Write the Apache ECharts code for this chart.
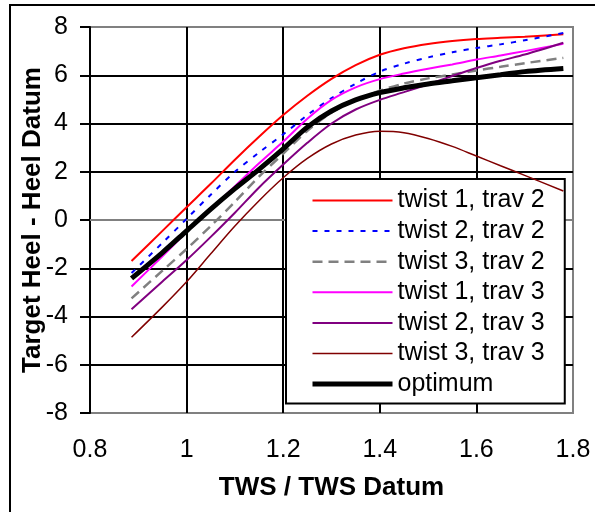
<!DOCTYPE html>
<html>
<head>
<meta charset="utf-8">
<script src="https://cdn.jsdelivr.net/npm/echarts@6/dist/echarts.min.js"></script>
<style>
html,body{margin:0;padding:0;background:#fff;}
#c{width:595px;height:512px;}
</style>
</head>
<body>
<div id="c"></div>
<script>
const xValues = [0.886, 0.95, 1.0, 1.05, 1.1, 1.15, 1.2, 1.25, 1.3, 1.35, 1.4, 1.45, 1.5, 1.55, 1.6, 1.65, 1.7, 1.78];
const seriesNames = ['twist 1, trav 2', 'twist 2, trav 2', 'twist 3, trav 2', 'twist 1, trav 3', 'twist 2, trav 3', 'twist 3, trav 3', 'optimum'];
const twist1trav2 = [-1.70, -0.45, 0.53, 1.50, 2.50, 3.45, 4.35, 5.15, 5.85, 6.42, 6.85, 7.12, 7.30, 7.42, 7.50, 7.55, 7.60, 7.70];
const twist2trav2 = [-2.20, -0.95, 0.05, 1.05, 2.00, 2.80, 3.55, 4.35, 5.05, 5.65, 6.15, 6.48, 6.74, 6.95, 7.13, 7.28, 7.45, 7.75];
const twist3trav2 = [-3.25, -2.10, -1.20, -0.25, 0.75, 1.80, 2.75, 3.70, 4.45, 4.97, 5.36, 5.66, 5.87, 6.03, 6.20, 6.35, 6.50, 6.72];
const twist1trav3 = [-2.76, -1.50, -0.50, 0.45, 1.40, 2.35, 3.25, 4.20, 4.98, 5.50, 5.84, 6.07, 6.27, 6.45, 6.65, 6.82, 7.00, 7.30];
const twist2trav3 = [-3.70, -2.55, -1.66, -0.70, 0.30, 1.35, 2.30, 3.20, 4.00, 4.58, 4.98, 5.30, 5.63, 5.97, 6.30, 6.60, 6.86, 7.35];
const twist3trav3 = [-4.86, -3.60, -2.56, -1.40, -0.25, 0.80, 1.75, 2.55, 3.15, 3.52, 3.68, 3.62, 3.38, 3.05, 2.65, 2.25, 1.85, 1.20];
const optimum     = [-2.42, -1.35, -0.45, 0.45, 1.30, 2.10, 2.95, 3.85, 4.52, 4.98, 5.28, 5.48, 5.64, 5.77, 5.90, 6.02, 6.15, 6.28];
const xTicks = [0.8, 1.0, 1.2, 1.4, 1.6, 1.8];
const yTicks = [-8, -6, -4, -2, 0, 2, 4, 6, 8];

const allValues = [twist1trav2, twist2trav2, twist3trav2, twist1trav3, twist2trav3, twist3trav3, optimum];
const styles = [
  {color: '#FF0000', width: 2, type: 'solid'},
  {color: '#0000FF', width: 2, type: [5, 7]},
  {color: '#808080', width: 2.5, type: [10, 6]},
  {color: '#FF00FF', width: 2, type: 'solid'},
  {color: '#800080', width: 2, type: 'solid'},
  {color: '#800000', width: 1.5, type: 'solid'},
  {color: '#000000', width: 5, type: 'solid'}
];
const FONT = 'Liberation Sans, Arial, sans-serif';

const chart = echarts.init(document.getElementById('c'), null, {renderer: 'canvas'});
chart.setOption({
  backgroundColor: '#fff',
  animation: false,
  graphic: [{
    type: 'rect', z: 0, silent: true,
    shape: {x: 10, y: 5, width: 620, height: 540},
    style: {fill: 'none', stroke: '#000', lineWidth: 2}
  }],
  grid: {left: 90, top: 27, right: 22, bottom: 99, show: true, borderColor: '#808080', borderWidth: 2, backgroundColor: '#fff'},
  xAxis: {
    type: 'value', min: xTicks[0], max: xTicks[xTicks.length - 1], interval: 0.2,
    name: 'TWS / TWS Datum', nameLocation: 'middle', nameGap: 62, nameMoveOverlap: false,
    nameTextStyle: {fontFamily: FONT, fontSize: 26, fontWeight: 'bold', color: '#000'},
    axisLine: {show: true, lineStyle: {color: '#808080', width: 2}},
    axisTick: {show: false},
    axisLabel: {margin: 25, fontFamily: FONT, fontSize: 25, color: '#000',
      formatter: v => String(Math.round(v * 10) / 10)},
    splitLine: {show: true, showMinLine: false, showMaxLine: false, lineStyle: {color: '#000', width: 2}}
  },
  yAxis: {
    type: 'value', min: yTicks[0], max: yTicks[yTicks.length - 1], interval: 2,
    name: 'Target Heel - Heel Datum', nameLocation: 'middle', nameGap: 44, nameMoveOverlap: false,
    nameTextStyle: {fontFamily: FONT, fontSize: 26, fontWeight: 'bold', color: '#000'},
    axisLine: {show: true, onZero: false, lineStyle: {color: '#000', width: 2}},
    axisTick: {show: true, inside: false, length: 10, lineStyle: {color: '#000', width: 2}},
    axisLabel: {margin: 22, fontFamily: FONT, fontSize: 25, color: '#000'},
    splitLine: {show: true, showMinLine: false, showMaxLine: false, lineStyle: {color: '#000', width: 2}}
  },
  legend: {
    show: true, orient: 'vertical', left: 286, top: 179,
    backgroundColor: '#fff', borderColor: '#000', borderWidth: 2,
    padding: [9, 20, 7, 24], itemGap: 5.6, itemWidth: 80, itemHeight: 14,
    itemStyle: {opacity: 0},
    textStyle: {fontFamily: FONT, fontSize: 25, color: '#000', lineHeight: 25},
    data: seriesNames.map((n, i) => ({name: n, lineStyle: {width: styles[i].width, opacity: 1}, itemStyle: {opacity: 0}}))
  },
  series: seriesNames.map((name, i) => ({
    name: name, type: 'line', smooth: 0.3, showSymbol: false, symbol: 'none',
    data: xValues.map((x, j) => [x, allValues[i][j]]),
    lineStyle: {color: styles[i].color, width: styles[i].width, type: styles[i].type, cap: 'butt'},
    itemStyle: {color: styles[i].color},
    z: 2 + i
  }))
});
</script>
</body>
</html>
